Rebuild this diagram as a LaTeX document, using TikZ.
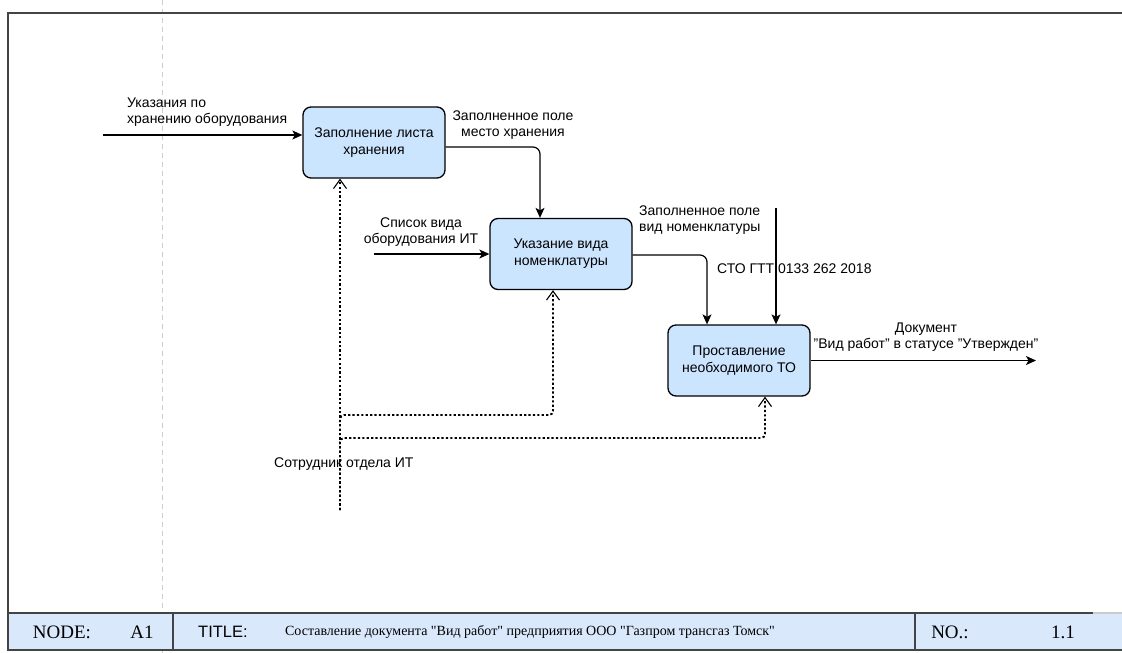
\documentclass[tikz,border=0pt]{standalone}
\usepackage{fontspec}
\setmainfont{Liberation Sans}
\newfontfamily\barserif{Liberation Serif}
\usetikzlibrary{arrows.meta,calc}

\definecolor{boxfill}{HTML}{CCE5FF}
\definecolor{barfill}{HTML}{DAE8FC}
\definecolor{framegray}{HTML}{444444}
\definecolor{guidegray}{HTML}{CCCCCC}

\tikzset{
  activity/.style={draw=black, line width=1.3pt, fill=boxfill, rounded corners=8pt,
    minimum width=142pt, minimum height=71pt, align=center,
    font=\fontsize{14}{17}\selectfont, inner sep=2pt},
  lbl/.style={font=\fontsize{14}{16}\selectfont, inner sep=0pt},
  flow/.style={line width=1.2pt, -{Stealth[length=10pt,width=9pt,inset=2.5pt]}, rounded corners=7pt},
  mech/.style={line width=1.9pt, dash pattern=on 2.2pt off 2.2pt, rounded corners=4pt,
    -{Straight Barb[length=9pt,width=13pt,line width=1.1pt]}},
  bartext/.style={font=\barserif\fontsize{19}{22}\selectfont, inner sep=0pt},
}

\begin{document}
\begin{tikzpicture}[x=1pt,y=-1pt]
\useasboundingbox (0,0) rectangle (1122,653);

% page frame and guide line
\draw[guidegray, line width=1pt, dash pattern=on 5pt off 4pt] (162,0) -- (162,653);
\draw[framegray, line width=2pt] (8,613) -- (8,13) -- (1122,13);

% activity boxes
\node[activity] (b1) at (374,142.5) {Заполнение листа\\хранения};
\node[activity] (b2) at (561,254) {Указание вида\\номенклатуры};
\node[activity] (b3) at (739,360.5) {Проставление\\необходимого ТО};

% free ends of the external arrows
\coordinate (in1) at (103,135);
\coordinate (in2) at (374,254);
\coordinate (ctl) at (776,208);
\coordinate (out) at (1036,360.5);
\coordinate (mech) at (340,510);

% inputs
\draw[flow] (in1) -- (in1 -| b1.west);
\draw[flow] (in2) -- (in2 -| b2.west);
% flows between activities
\draw[flow] ($(b1.east)+(0,4.5)$) -| ($(b2.north)+(-21,0)$);
\draw[flow] ($(b2.east)+(0,1)$) -| ($(b3.north)+(-32,0)$);
% control
\draw[flow] (ctl) -- (ctl |- b3.north);
% output
\draw[flow] (b3.east) -- (out);
% mechanisms
\draw[mech] (mech) -- ($(b1.south)+(-34,0)$);
\draw[mech] (mech) -- ++(0,-95) -| ($(b2.south)+(-8,0)$);
\draw[mech] (mech) -- ++(0,-72) -| ($(b3.south)+(26,0)$);

% arrow labels
\node[lbl, anchor=west, align=left] (t1) at (127,112) {Указания по\\хранению оборудования};
\node[lbl, align=center] (t2) at (513,125) {Заполненное поле\\место хранения};
\node[lbl, align=center] (t3) at (421,232) {Список вида\\оборудования ИТ};
\node[lbl, anchor=west, align=left] (t4) at (639,220) {Заполненное поле\\вид номенклатуры};
\node[lbl, anchor=west] (t5) at (717,269) {СТО ГТТ 0133 262 2018};
\node[lbl, align=center] (t6) at (926,337) {Документ\\"Вид работ" в статусе "Утвержден"};
\node[lbl, anchor=west] (t7) at (274,464) {Сотрудник отдела ИТ};

% title bar
\fill[barfill] (8,613) rectangle (1122,650);
\draw[framegray, line width=2pt] (1093,613) -- (8,613) -- (8,650) -- (1122,650);
\draw[guidegray, line width=2pt] (1093,613) -- (1122,613);
\draw[framegray, line width=2pt] (173,613) -- (173,650);
\draw[framegray, line width=2pt] (915,613) -- (915,650);
\node[bartext] (nodelbl) at (62,632) {NODE:};
\node[bartext] (nodeval) at (142,632) {A1};
\node[font=\fontsize{16.5}{18}\selectfont, inner sep=0pt] (titlelbl) at (223,632) {TITLE:};
\node[font=\barserif\fontsize{14}{16}\selectfont, inner sep=0pt] (titleval) at (530,632)
  {Составление документа "Вид работ" предприятия ООО "Газпром трансгаз Томск"};
\node[bartext] (nolbl) at (950,632) {NO.:};
\node[bartext] (noval) at (1063,632) {1.1};
\end{tikzpicture}
\end{document}
